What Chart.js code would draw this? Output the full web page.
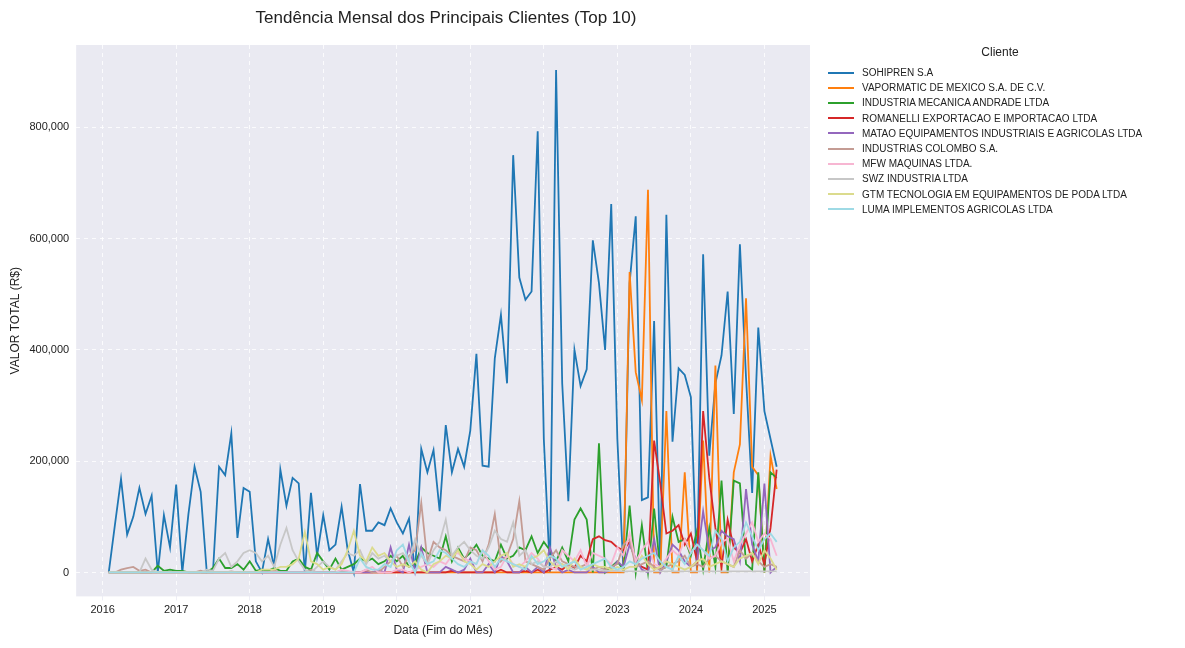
<!DOCTYPE html>
<html>
<head>
<meta charset="utf-8">
<script src="https://cdn.jsdelivr.net/npm/chart.js@4"></script>
<style>
  body { margin: 0; background: #fff; font-family: "Liberation Sans", Arial, sans-serif; }
  #wrap { position: relative; width: 1185px; height: 648px; }
  #title { position: absolute; left: 82px; width: 728px; top: 8px; text-align: center; font-size: 17px; color: #222; }
  #legend { position: absolute; left: 822px; top: 45px; width: 356px; font-size: 10px; color: #222; }
  #legend .t { text-align: center; font-size: 12px; margin-bottom: 6px; }
  #legend .it { display: flex; align-items: center; height: 15.2px; padding-left: 6px; }
  #legend .ln { width: 26px; height: 2px; margin-right: 8px; }
</style>
</head>
<body>
<div id="wrap">
  <div id="title">Tendência Mensal dos Principais Clientes (Top 10)</div>
  <canvas id="chart" width="1185" height="648"></canvas>
  <div id="legend"></div>
</div>
<script>
// Clientes (top 10) e cores
const clientes = [
    'SOHIPREN S.A',
    'VAPORMATIC DE MEXICO S.A. DE C.V.',
    'INDUSTRIA MECANICA ANDRADE LTDA',
    'ROMANELLI EXPORTACAO E IMPORTACAO LTDA',
    'MATAO EQUIPAMENTOS INDUSTRIAIS E AGRICOLAS LTDA',
    'INDUSTRIAS COLOMBO S.A.',
    'MFW MAQUINAS LTDA.',
    'SWZ INDUSTRIA LTDA',
    'GTM TECNOLOGIA EM EQUIPAMENTOS DE PODA LTDA',
    'LUMA IMPLEMENTOS AGRICOLAS LTDA'
];
const cores = ['#1f77b4', '#ff7f0e', '#2ca02c', '#d62728', '#9467bd', '#c49c94', '#f7b6d2', '#c7c7c7', '#dbdb8d', '#9edae5'];

// Meses: jan/2016 .. fev/2025 (fim do mes)
const meses = [];
for (let y = 2016; y <= 2025; y++) {
    for (let m = 1; m <= 12; m++) {
        if (y === 2025 && m > 2) break;
        meses.push(y + m / 12);
    }
}

const yTicks = [0, 200000, 400000, 600000, 800000];
const xTicks = [2016, 2017, 2018, 2019, 2020, 2021, 2022, 2023, 2024, 2025];

// valores em milhares de R$
const sohipren = [
    0,85,168,68,100,152,105,138,0,103,45,158,
    0,105,190,145,0,0,190,175,250,62,152,145,
    20,0,60,10,185,120,170,160,0,143,30,103,
    40,50,118,40,0,159,75,75,90,85,115,90,
    70,97,0,222,180,220,110,265,180,222,190,255,
    393,192,190,385,463,340,750,530,490,505,793,240,
    0,903,340,128,400,335,365,597,520,400,662,240,
    0,520,640,130,135,452,0,643,235,367,355,315,
    0,572,210,340,390,505,285,590,350,143,440,290,
    240,190];
const vapormatic = [
    0,0,0,0,0,0,0,0,0,0,0,0,
    0,0,0,0,0,0,0,0,0,0,0,0,
    0,0,0,0,0,0,0,0,0,0,0,0,
    0,0,0,0,0,0,0,0,0,0,0,0,
    0,0,0,0,0,0,0,0,0,0,0,0,
    0,0,0,0,0,0,0,0,0,0,0,0,
    0,0,0,0,0,0,0,0,0,0,0,0,
    0,540,360,310,688,0,0,290,0,0,180,0,
    0,237,0,372,0,0,180,230,493,190,175,0,
    210,150];
const andrade = [
    0,0,0,0,0,0,0,0,12,3,5,3,
    3,0,0,0,0,8,25,8,8,15,5,20,
    3,5,3,8,3,3,20,25,10,5,35,20,
    5,25,5,10,15,25,20,25,15,20,30,20,
    30,10,15,45,35,30,25,65,20,45,25,35,
    50,30,25,20,50,25,30,45,40,65,35,55,
    40,20,45,20,95,115,95,0,232,0,10,20,
    5,120,0,85,0,115,5,10,100,55,60,30,
    75,5,80,10,165,0,165,160,15,5,180,0,
    180,170];
const romanelli = [
    0,0,0,0,0,0,0,0,0,0,0,0,
    0,0,0,0,0,0,0,0,0,0,0,0,
    0,0,0,0,0,0,0,0,0,0,0,0,
    0,0,0,0,0,0,0,0,0,0,0,0,
    0,0,0,0,0,0,0,0,3,0,0,0,
    0,0,0,0,5,0,0,0,3,0,5,0,
    5,10,5,15,8,30,20,60,65,58,55,45,
    40,55,20,10,5,237,160,70,75,85,50,70,
    20,290,170,80,10,95,45,35,60,20,50,15,
    80,185];
const matao = [
    0,0,0,0,0,0,0,0,0,0,0,0,
    0,0,0,0,0,0,0,0,0,0,0,0,
    0,0,0,0,0,0,0,0,0,0,0,0,
    0,0,0,0,0,0,0,0,5,0,45,5,
    0,50,0,45,0,0,0,10,5,0,5,25,
    0,0,15,0,30,20,0,0,10,0,10,0,
    45,10,0,5,0,0,0,10,0,0,5,20,
    10,50,25,5,0,60,0,20,50,40,20,10,
    20,110,40,45,75,65,60,20,150,50,20,160,
    0,10];
const colombo = [
    0,0,5,8,10,3,5,0,0,0,0,0,
    0,0,0,3,0,0,0,0,2,0,0,0,
    0,0,0,3,0,0,0,0,0,5,0,0,
    0,0,3,0,0,0,5,0,0,10,20,30,
    10,30,40,125,20,55,45,40,30,25,20,45,
    40,20,50,105,20,30,60,128,20,15,10,5,
    25,40,20,15,10,10,15,5,10,5,10,15,
    50,60,10,15,20,10,5,10,15,20,30,10,
    15,10,25,30,20,15,10,40,25,35,20,10,
    15,10];
const mfw = [
    0,0,0,0,0,0,0,0,0,0,0,0,
    0,0,0,0,0,0,0,0,0,0,0,0,
    0,0,0,0,0,0,0,0,0,0,0,0,
    0,0,5,3,0,0,5,10,0,0,0,5,
    5,0,5,10,15,10,20,15,30,35,25,20,
    15,40,20,5,10,30,15,10,20,35,25,10,
    10,5,40,30,20,40,10,35,30,25,15,45,
    30,70,20,40,55,15,10,25,40,30,60,35,
    50,40,25,30,55,60,20,50,70,90,55,70,
    60,30];
const swz = [
    0,0,0,0,0,0,25,5,0,0,0,0,
    0,0,0,0,5,3,25,35,10,20,35,40,
    35,20,30,10,50,80,40,20,5,0,10,20,
    10,5,20,35,30,40,15,35,25,30,20,30,
    35,20,60,30,15,40,55,95,30,45,55,40,
    30,25,45,75,60,55,90,30,40,15,20,10,
    10,20,15,10,5,10,5,5,5,3,3,3,
    2,2,2,2,2,2,2,2,2,2,2,2,
    2,2,2,2,2,2,2,2,2,2,2,2,
    2,2];
const gtm = [
    0,0,0,0,0,0,0,0,0,0,0,0,
    0,0,0,0,0,0,0,0,0,0,0,0,
    0,5,5,5,10,10,15,25,73,20,15,5,
    10,5,15,40,75,30,20,45,30,35,20,10,
    15,10,20,5,0,15,20,30,25,40,20,15,
    5,15,10,20,30,35,10,15,10,25,30,40,
    20,10,15,5,25,10,5,15,10,10,5,10,
    5,10,10,30,15,5,10,20,15,10,5,10,
    20,25,10,15,20,15,10,25,30,35,15,40,
    25,5];
const luma = [
    0,0,0,0,0,0,0,0,0,0,0,0,
    0,0,0,0,0,0,0,0,0,0,0,0,
    0,0,0,0,0,0,0,0,0,0,0,0,
    0,0,0,0,0,25,10,5,5,15,10,40,
    50,20,0,35,15,20,40,35,25,15,10,20,
    15,40,30,10,25,20,15,10,5,30,15,20,
    30,25,10,15,20,5,10,15,20,25,10,5,
    10,20,15,25,30,35,20,10,5,30,15,35,
    50,40,30,75,60,20,45,55,90,65,40,60,
    70,55];

const series = [sohipren, vapormatic, andrade, romanelli, matao, colombo, mfw, swz, gtm, luma];

const datasets = series.map((vals, i) => ({
    label: clientes[i],
    data: vals.map((v, j) => ({ x: meses[j], y: v * 1000 })),
    borderColor: cores[i],
    backgroundColor: cores[i],
    borderWidth: 1.8,
    pointRadius: 0,
    tension: 0,
    order: series.length - i
}));

// fundo estilo seaborn
const plotBg = {
    id: 'plotBg',
    beforeDraw(chart) {
        const { ctx, chartArea: a } = chart;
        ctx.save();
        ctx.fillStyle = '#eaeaf2';
        ctx.fillRect(a.left, a.top, a.right - a.left, a.bottom - a.top);
        ctx.restore();
    }
};

new Chart(document.getElementById('chart'), {
    type: 'line',
    data: { datasets: datasets },
    options: {
        responsive: false,
        animation: false,
        layout: { padding: { top: 45, right: 375, left: 4, bottom: 6 } },
        plugins: { legend: { display: false }, tooltip: { enabled: false } },
        scales: {
            x: {
                type: 'linear',
                min: 2015.64,
                max: 2025.62,
                afterBuildTicks: s => { s.ticks = xTicks.map(v => ({ value: v })); },
                ticks: { color: '#222', font: { size: 11 }, callback: v => String(v) },
                grid: { color: '#ffffff', lineWidth: 0.8, drawTicks: true, tickLength: 4, tickColor: '#eaeaf2' },
                border: { display: false, dash: [4, 4] },
                title: { display: true, text: 'Data (Fim do Mês)', color: '#222', font: { size: 12 } }
            },
            y: {
                min: -43000,
                max: 948000,
                afterBuildTicks: s => { s.ticks = yTicks.map(v => ({ value: v })); },
                ticks: { color: '#222', font: { size: 11 }, callback: v => v.toLocaleString('en-US') },
                grid: { color: '#ffffff', lineWidth: 0.8, tickLength: 4, tickColor: 'rgba(0,0,0,0)' },
                border: { display: false, dash: [4, 4] },
                title: { display: true, text: 'VALOR TOTAL (R$)', color: '#222', font: { size: 12 } }
            }
        }
    },
    plugins: [plotBg]
});

// legenda
const leg = document.getElementById('legend');
leg.innerHTML = '<div class="t">Cliente</div>' + clientes.map((c, i) =>
    `<div class="it"><span class="ln" style="background:${cores[i]}"></span>${c}</div>`).join('');
</script>
</body>
</html>
